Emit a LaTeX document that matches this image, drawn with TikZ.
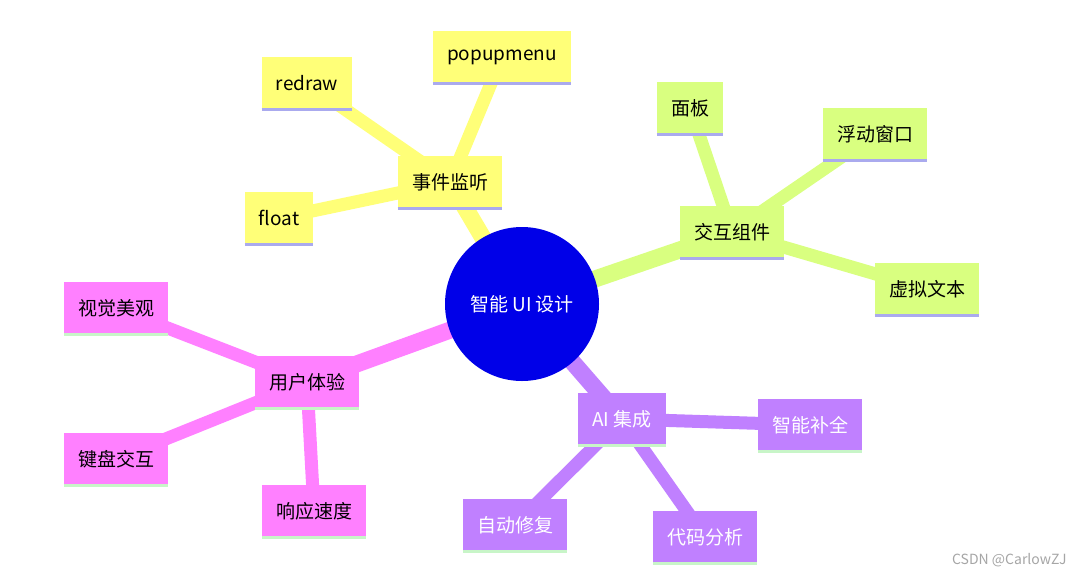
\documentclass[tikz,border=0pt]{standalone}
\usepackage{fontspec}
\setmainfont{Noto Sans CJK SC}
\begin{document}
\begin{tikzpicture}[x=1pt,y=-1pt,
  bx/.style={minimum height=52pt,inner xsep=14pt,font=\fontsize{19}{22}\selectfont,anchor=center},
  yel/.style={bx,fill=yelc},
  grn/.style={bx,fill=grnc},
  pnk/.style={bx,fill=pnkc},
  pur/.style={bx,fill=purc,text=white},
  ln/.style={line width=13pt},
  rl/.style={line width=17pt}]
\definecolor{yelc}{HTML}{FFFF78}
\definecolor{grnc}{HTML}{D9FF80}
\definecolor{pnkc}{HTML}{FF80FF}
\definecolor{purc}{HTML}{C080FF}
\definecolor{rootc}{HTML}{0000E8}
\definecolor{lav}{HTML}{AAAAEE}
\definecolor{lgr}{HTML}{C8F5C8}
\useasboundingbox (0,0) rectangle (1073,576);
\fill[white] (0,0) rectangle (1073,576);
% positions
\coordinate (cR) at (522,304);
\coordinate (cE) at (450,182);
\coordinate (cRd) at (307,83);
\coordinate (cP) at (502,57);
\coordinate (cF) at (279,218);
\coordinate (cJ) at (732,232);
\coordinate (cM) at (690,108);
\coordinate (cW) at (875,134);
\coordinate (cV) at (927,289);
\coordinate (cU) at (307,382);
\coordinate (cS) at (116,308);
\coordinate (cK) at (116,459);
\coordinate (cX) at (314,511);
\coordinate (cA) at (622,419);
\coordinate (cB) at (810,425);
\coordinate (cZ) at (515,525);
\coordinate (cD) at (705,537);
% connectors
\draw[rl,yelc] (cR) -- (cE);
\draw[rl,grnc] (cR) -- (cJ);
\draw[rl,pnkc] (cR) -- (cU);
\draw[rl,purc] (cR) -- (cA);
\draw[ln,yelc] (cE) -- (cRd); \draw[ln,yelc] (cE) -- (cP); \draw[ln,yelc] (cE) -- (cF);
\draw[ln,grnc] (cJ) -- (cM); \draw[ln,grnc] (cJ) -- (cW); \draw[ln,grnc] (cJ) -- (cV);
\draw[ln,pnkc] (cU) -- (cS); \draw[ln,pnkc] (cU) -- (cK); \draw[ln,pnkc] (cU) -- (cX);
\draw[ln,purc] (cA) -- (cB); \draw[ln,purc] (cA) -- (cZ); \draw[ln,purc] (cA) -- (cD);
% nodes
\node[circle,fill=rootc,minimum size=154pt,text=white,font=\fontsize{19}{22}\selectfont] (root) at (cR) {智能 UI 设计};
\node[yel] (e) at (cE) {事件监听};
\node[yel] (rd) at (cRd) {redraw};
\node[yel] (p) at (cP) {popupmenu};
\node[yel] (f) at (cF) {float};
\node[grn] (j) at (cJ) {交互组件};
\node[grn] (m) at (cM) {面板};
\node[grn] (w) at (cW) {浮动窗口};
\node[grn] (v) at (cV) {虚拟文本};
\node[pnk] (u) at (cU) {用户体验};
\node[pnk] (s) at (cS) {视觉美观};
\node[pnk] (k) at (cK) {键盘交互};
\node[pnk] (x) at (cX) {响应速度};
\node[pur] (a) at (cA) {AI 集成};
\node[pur] (b) at (cB) {智能补全};
\node[pur] (z) at (cZ) {自动修复};
\node[pur] (d) at (cD) {代码分析};
\foreach \n in {e,rd,p,f,j,m,w,v}{\draw[lav,line width=3pt] (\n.south west) -- (\n.south east);}
\foreach \n in {u,s,k,x,a,b,z,d}{\draw[lgr,line width=3pt] (\n.south west) -- (\n.south east);}
\node[text=gray!70,font=\fontsize{14}{16}\selectfont,anchor=east] (wm) at (1070,560) {CSDN @CarlowZJ};
\end{tikzpicture}
\end{document}
